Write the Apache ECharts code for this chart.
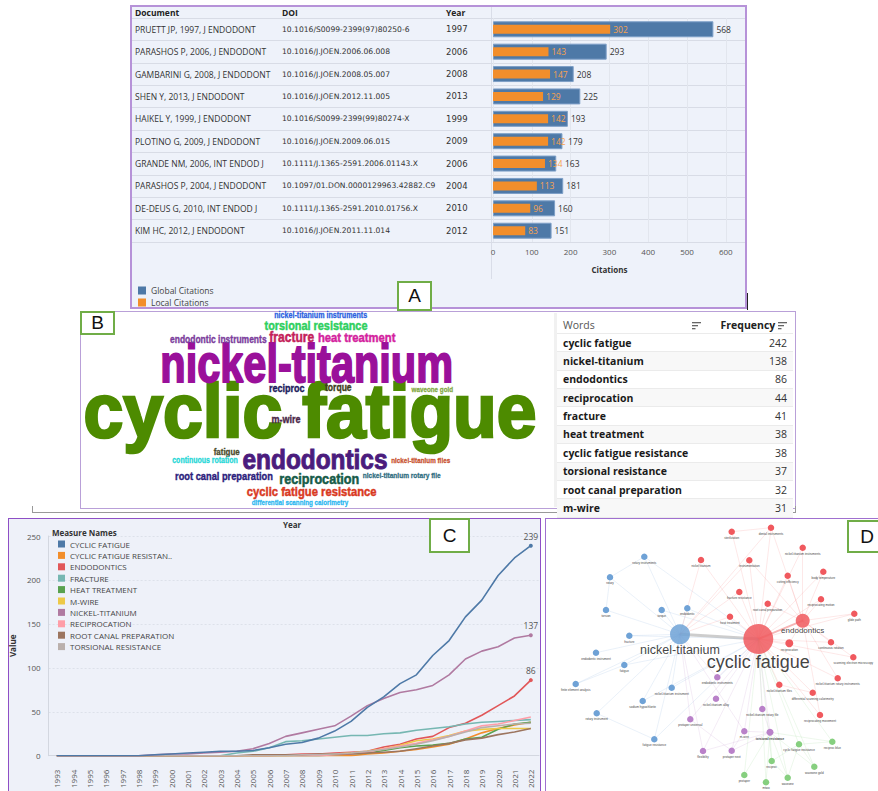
<!DOCTYPE html>
<html><head><meta charset="utf-8">
<script src="https://cdn.jsdelivr.net/npm/echarts@6/dist/echarts.min.js"></script>
<style>
body{margin:0;width:878px;height:791px;position:relative;overflow:hidden;background:#fff;font-family:'Open Sans',sans-serif}
.p{position:absolute;box-sizing:border-box}
.tag{position:absolute;box-sizing:border-box;border:2px solid #70ad47;background:#fff;font-family:'Liberation Sans',Arial,sans-serif;font-size:19px;color:#111;display:flex;align-items:center;justify-content:center;z-index:5}
#chart{position:absolute;left:0;top:0;width:878px;height:791px;z-index:2}
#wt{position:absolute;left:557px;top:316px;width:236px;z-index:3;border-collapse:collapse;font-family:'Open Sans',sans-serif}
#wt td{height:17.37px;padding:0 6px;font-size:10.5px;line-height:12px;border-bottom:1px solid #ebebeb}
#wt tr.h td{height:17px;font-size:10.5px;color:#555;font-weight:400}
#wt td.n{text-align:right;color:#333}
#wt td.w{font-weight:700;color:#1a1a1a}
#wt tr:nth-child(odd):not(.h) td{background:#f8f8f8}
</style></head>
<body>
<div class="p" style="left:130px;top:5px;width:617px;height:304px;background:#eef2fa;border:2px solid #b692d8"></div>
<div class="p" style="left:491px;top:7px;width:1px;height:272px;background:#d9dde8"></div>
<div class="p" style="left:747px;top:293px;width:1px;height:17px;background:#222"></div>
<div class="p" style="left:80px;top:311px;width:716px;height:198px;background:#fff;border:1.5px solid #b9a0d8"></div>
<div class="p" style="left:554px;top:313px;width:3px;height:194px;background:#f1f1f1"></div>
<div class="p" style="left:32px;top:512px;width:764px;height:1px;background:#999"></div>
<div class="p" style="left:32px;top:506px;width:1px;height:7px;background:#999"></div>
<div class="p" style="left:795px;top:506px;width:1px;height:7px;background:#999"></div>
<div class="p" style="left:8px;top:518px;width:533px;height:280px;background:#eef1f9;border:1.5px solid #8e4fc6"></div>
<div class="p" style="left:545px;top:518px;width:340px;height:280px;background:#fff;border:1.5px solid #a070d0"></div>
<div id="chart"></div>
<table id="wt"><tbody id="wtb"></tbody></table>
<div class="tag" style="left:397px;top:281px;width:35px;height:30px">A</div>
<div class="tag" style="left:80px;top:311px;width:35px;height:24px">B</div>
<div class="tag" style="left:429px;top:518px;width:41px;height:35px">C</div>
<div class="tag" style="left:847px;top:520px;width:40px;height:33px">D</div>
<script>
// ---------- Panel A data ----------
const docNames = ['PRUETT JP, 1997, J ENDODONT','PARASHOS P, 2006, J ENDODONT','GAMBARINI G, 2008, J ENDODONT','SHEN Y, 2013, J ENDODONT','HAIKEL Y, 1999, J ENDODONT','PLOTINO G, 2009, J ENDODONT','GRANDE NM, 2006, INT ENDOD J','PARASHOS P, 2004, J ENDODONT','DE-DEUS G, 2010, INT ENDOD J','KIM HC, 2012, J ENDODONT'];
const docDOIs = ['10.1016/S0099-2399(97)80250-6','10.1016/J.JOEN.2006.06.008','10.1016/J.JOEN.2008.05.007','10.1016/J.JOEN.2012.11.005','10.1016/S0099-2399(99)80274-X','10.1016/J.JOEN.2009.06.015','10.1111/J.1365-2591.2006.01143.X','10.1097/01.DON.0000129963.42882.C9','10.1111/J.1365-2591.2010.01756.X','10.1016/J.JOEN.2011.11.014'];
const docYears = [1997,2006,2008,2013,1999,2009,2006,2004,2010,2012];
const globalCitations = [568,293,208,225,193,179,163,181,160,151];
const localCitations = [302,143,147,129,142,142,134,113,96,83];
const citationTicks = [0,100,200,300,400,500,600];

// ---------- Panel B data ----------
const topWords = ['cyclic fatigue','nickel-titanium','endodontics','reciprocation','fracture','heat treatment','cyclic fatigue resistance','torsional resistance','root canal preparation','m-wire'];
const topFreq = [242,138,86,44,41,38,38,37,32,31];
const cloudWords = ['cyclic fatigue','nickel-titanium','endodontics','reciprocation','fracture','heat treatment','cyclic fatigue resistance','torsional resistance','root canal preparation','m-wire','endodontic instruments','nickel-titanium instruments','reciproc','torque','waveone gold','fatigue','continuous rotation','nickel-titanium files','nickel-titanium rotary file','differential scanning calorimetry'];
// word-cloud layout (placement, font size, target width, colour)
const cloudXY = [[230,100.4],[226.7,53.3],[235,149.9],[239.3,168.3],[211.7,27.3],[276.7,27.3],[231.7,181.7],[236,15.3],[144,166.7],[206,109.3],[138.3,30],[240.7,5.3],[206.7,78.3],[258.3,77.3],[352.3,79],[146.7,141.7],[125,150.7],[340.7,150],[321.7,165.7],[220,192]];
const cloudSize = [76,53,27,15,14,13.5,13.5,13,11,11,10,8.5,11,10.5,7.5,9.5,8.5,7.5,7.5,7.5];
const cloudWidth = [453,293,145,80,45,77.7,130,103,98,29,96.7,93,35.7,26.7,41.7,26,65.7,59,78,96.7];
const cloudColor = ['#4d8b00','#9a109a','#4b1c7d','#165b48','#c41e5a','#d4229e','#d9391f','#2ecf5e','#2b1d7c','#4a2848','#7b3c9c','#2a5fe0','#1c1c5c','#3d3d20','#7fa840','#4b4b2b','#1fd6d6','#c8502e','#2e6d80','#29b6f0'];

// ---------- Panel C data ----------
const trendYears = ['1993','1994','1995','1996','1997','1998','1999','2000','2001','2002','2003','2004','2005','2006','2007','2008','2009','2010','2011','2012','2013','2014','2015','2016','2017','2018','2019','2020','2021','2022'];
const trendNames = ['CYCLIC FATIGUE','CYCLIC FATIGUE RESISTANCE','ENDODONTICS','FRACTURE','HEAT TREATMENT','M-WIRE','NICKEL-TITANIUM','RECIPROCATION','ROOT CANAL PREPARATION','TORSIONAL RESISTANCE'];
const sCyclicFatigue = [0,0,0,0,0,0,1,2,3,4,5,5,6,9,13,15,20,28,39,55,67,82,92,114,131,158,177,205,225,239];
const sCFResistance = [0,0,0,0,0,0,0,0,0,0,0,0,0,0,0,0,0,0,0,2,3,5,7,10,13,19,26,31,35,38];
const sEndodontics = [0,0,0,0,0,0,0,0,0,0,0,0,0,0,1,2,2,3,4,5,10,13,19,22,32,37,46,57,68,86];
const sFracture = [0,0,0,0,0,0,0,0,0,0,0,3,5,9,16,17,19,21,23,23,25,26,29,31,33,36,38,39,40,41];
const sHeatTreatment = [0,0,0,0,0,0,0,0,0,0,0,0,0,0,0,0,0,1,2,3,6,9,11,12,14,19,21,30,36,38];
const sMWire = [0,0,0,0,0,0,0,0,0,0,0,0,0,0,0,1,1,2,3,5,8,12,17,19,23,28,30,31,31,31];
const sNickelTitanium = [0,0,0,0,0,0,1,2,2,3,4,5,8,14,22,26,30,34,45,57,65,72,75,80,92,110,119,124,134,137];
const sReciprocation = [0,0,0,0,0,0,0,0,0,0,0,0,0,0,0,0,0,1,2,4,8,11,14,18,22,28,34,36,40,44];
const sRootCanal = [0,0,0,0,0,0,0,0,0,0,0,0,1,1,1,1,2,2,2,3,4,5,8,11,14,18,20,24,27,31];
const sTorsional = [0,0,0,0,0,0,0,0,0,0,0,0,0,0,0,1,1,2,3,5,7,10,13,17,22,27,32,34,36,37];
const trendValues = [sCyclicFatigue,sCFResistance,sEndodontics,sFracture,sHeatTreatment,sMWire,sNickelTitanium,sReciprocation,sRootCanal,sTorsional];
const trendColors = ['#4e79a7','#f28e2b','#e15759','#76b7b2','#59a14f','#edc948','#b07aa1','#ff9da7','#9c755f','#bab0ac'];
const valueTicks = [0,50,100,150,200,250];

// ---------- Panel D data ----------
const netNames = ['cyclic fatigue','nickel-titanium','endodontics','sterilization','dental instruments','nickel-titanium instruments','nickel titanium','instrumentation','body temperature','cutting efficiency','fracture resistance','reciprocating motion','root canal preparation','glide path','heat treatment','reciprocation','continuous rotation','scanning electron microscopy','nickel-titanium rotary instruments','nickel-titanium files','differential scanning calorimetry','reciprocating movement','rotary instruments','rotary','torsion','torque','endodontic','fracture','endodontic instrument','fatigue','finite element analysis','nickel-titanium instrument','sodium hypochlorite','rotary instrument','fatigue resistance','endodontic instruments','nickel-titanium alloy','nickel-titanium rotary file','protaper universal','m-wire','torsional resistance','flexibility','protaper next','cyclic fatigue resistance','reciproc blue','reciproc','waveone gold','protaper','mtwo','waveone'];
const netCluster = ['r','b','r','r','r','r','r','r','r','r','r','r','r','r','r','r','r','r','r','r','r','r','b','b','b','b','b','b','b','b','b','b','b','b','b','p','p','p','p','p','p','p','p','g','g','g','g','g','g','g'];
// network layout (node placement and size)
const netXY = [[213.3,121],[135,116.3],[257.7,102.7],[186.7,13.7],[226,9.7],[257.7,29.7],[156,42],[204.3,42.3],[278.3,53.7],[242.7,57.7],[194.3,74],[276,81.3],[222.7,85.7],[309.3,95.7],[185,98.7],[244.3,125.3],[286,124.3],[308.3,139.3],[292.7,160.3],[234.3,166.7],[267.7,174.7],[275,197],[99.3,38.7],[65,59.3],[61,92],[116.7,92],[142.3,90.3],[84.3,117.7],[51,134.7],[79.3,147],[30.7,166],[126.7,169.7],[97.7,183],[51.7,195.3],[109.3,221.3],[172.3,159.3],[171,180.7],[217.3,191],[145.3,201.3],[199.3,213.3],[225,214.3],[158,233],[186.7,232.7],[254,226.3],[287.3,223.7],[226.7,243],[269.3,248.7],[199.3,257],[221,264.3],[242.7,259.7]];
const netSize = [30,20,14,6.5,6.5,6.5,6.5,6.5,6.5,6.5,6.5,6.5,6.5,6.5,6.5,8,6.5,6.5,6.5,6.5,6.5,6.5,6.5,6.5,6.5,6.5,6.5,6.5,6.5,6.5,6.5,6.5,6.5,6.5,6.5,6.5,6.5,6.5,6.5,6.5,7,6.5,6.5,6.5,6.5,6.5,6.5,6.5,6.5,6.5];
const netLinks = [
 ['cyclic fatigue','nickel-titanium'],['cyclic fatigue','endodontics'],
 ...['sterilization','dental instruments','nickel-titanium instruments','nickel titanium','instrumentation','body temperature','cutting efficiency','fracture resistance','reciprocating motion','root canal preparation','glide path','heat treatment','reciprocation','continuous rotation','scanning electron microscopy','nickel-titanium rotary instruments','nickel-titanium files','differential scanning calorimetry','reciprocating movement','endodontic instruments','nickel-titanium alloy','nickel-titanium rotary file','protaper universal','m-wire','torsional resistance','flexibility','protaper next','cyclic fatigue resistance','reciproc blue','reciproc','waveone gold','protaper','waveone','mtwo','fracture','torque','endodontic','fatigue','rotary instruments','nickel-titanium instrument','fatigue resistance','sodium hypochlorite'].map(t=>['cyclic fatigue',t]),
 ...['rotary instruments','rotary','torsion','torque','endodontic','fracture','endodontic instrument','fatigue','finite element analysis','nickel-titanium instrument','sodium hypochlorite','rotary instrument','fatigue resistance','nickel titanium','heat treatment','instrumentation','endodontic instruments','protaper universal','flexibility','m-wire','dental instruments','fracture resistance'].map(t=>['nickel-titanium',t]),
 ...['nickel-titanium instruments','cutting efficiency','body temperature','reciprocating motion','glide path','continuous rotation','reciprocation','root canal preparation','dental instruments','scanning electron microscopy','nickel-titanium rotary instruments','reciprocating movement','instrumentation'].map(t=>['endodontics',t]),
 ...['reciproc','waveone gold','protaper','mtwo','waveone','reciproc blue','m-wire','protaper next','flexibility','nickel-titanium rotary file'].map(t=>['torsional resistance',t]),
 ...['reciproc blue','waveone gold','reciproc','waveone'].map(t=>['cyclic fatigue resistance',t]),
 ['rotary instruments','rotary'],['torsion','rotary'],['fatigue','finite element analysis'],['rotary instrument','fatigue resistance'],['protaper universal','protaper next'],['m-wire','protaper next'],['reciproc','waveone'],['sterilization','dental instruments'],['nickel-titanium files','differential scanning calorimetry']
];

const clusterColor = {r:'#f0595e', b:'#6fa2d6', p:'#b981c9', g:'#86cf7f'};
const edgeColor = {r:'#f38f92', b:'#9cbde2', p:'#c9a2d6', g:'#a8dca3'};
const FONT = "'Open Sans', sans-serif";
const WIDE = "'DejaVu Sans', sans-serif";
const CLOUD = "'Liberation Sans', Arial, sans-serif";

// condense each cloud word to its measured width
const mctx = document.createElement('canvas').getContext('2d');
const cloudScale = cloudWords.map((w,i)=>{
  mctx.font = 'bold ' + cloudSize[i] + 'px ' + CLOUD;
  return cloudWidth[i] / mctx.measureText(w).width;
});

// B table
const sortIcon = '<svg width="9" height="8" style="vertical-align:middle"><rect x="0" y="0" width="9" height="1.3" fill="#666"/><rect x="0" y="3" width="6" height="1.3" fill="#666"/><rect x="0" y="6" width="3.5" height="1.3" fill="#666"/></svg>';
document.getElementById('wtb').innerHTML =
 '<tr class="h"><td>Words<span style="float:right">'+sortIcon+'</span></td><td class="n" style="font-weight:700;color:#222">Frequency '+sortIcon+'</td></tr>' +
 topWords.map((w,i)=>'<tr><td class="w">'+w+'</td><td class="n">'+topFreq[i]+'</td></tr>').join('');

const chart = echarts.init(document.getElementById('chart'), null, {renderer:'svg'});
const rowTop = 18.1, rowH = 223.8;
const pxPerCitation = 232.8 / 600;
const lastIdx = trendYears.length - 1;
const labeled = {0:true, 2:true, 6:true};
const idxOf = {}; netNames.forEach((n,i)=>idxOf[n]=i);

const option = {
 animation:false,
 textStyle:{fontFamily:FONT},
 legend:[
  {data:['Global Citations','Local Citations'], orient:'vertical', left:133, top:281, itemWidth:8, itemHeight:8, itemGap:3, icon:'rect',
   itemStyle:{borderWidth:0}, textStyle:{fontSize:8.5,color:'#444',fontFamily:FONT}, selectedMode:false},
  {data:trendNames, orient:'vertical', left:53, top:535, itemWidth:7, itemHeight:7, itemGap:3.4, icon:'rect', selectedMode:false,
   itemStyle:{borderWidth:0},
   formatter:n=> n.length>23 ? n.slice(0,23)+'..' : n, textStyle:{fontSize:8,color:'#444',fontFamily:FONT}}
 ],
 grid:[
  {left:132, top:rowTop, width:613, height:rowH},
  {left:493, top:rowTop, width:232.8, height:rowH},
  {left:43.5, top:536, width:495.5, height:224},
  {left:80, top:310, width:475, height:198},
  {left:545, top:518, width:333, height:273}
 ],
 xAxis:[
  {gridIndex:0, type:'value', show:false},
  {gridIndex:1, type:'value', min:0, max:600, interval:100, name:'Citations', nameLocation:'middle', nameGap:24,
   nameTextStyle:{fontSize:8,fontWeight:'bold',color:'#333'},
   axisLine:{show:false}, axisTick:{show:false}, axisLabel:{fontSize:8,color:'#555',margin:6,
   formatter:v=>citationTicks.includes(v)?String(v):''},
   splitLine:{lineStyle:{color:'#e2e6ee',width:1}}},
  {gridIndex:2, type:'category', data:trendYears, boundaryGap:true, offset:11,
   axisLine:{lineStyle:{color:'#d3d7e0'}}, axisTick:{show:false},
   axisLabel:{rotate:90, fontSize:8, color:'#555', margin:3, interval:0}},
  {gridIndex:3, type:'value', min:0, max:475, show:false},
  {gridIndex:4, type:'value', min:0, max:333, show:false}
 ],
 yAxis:[
  {gridIndex:0, type:'category', inverse:true, data:docNames.map((d,i)=>i),
   axisLine:{show:false}, axisTick:{show:false},
   splitLine:{show:true, lineStyle:{color:'#d8dce6',width:1}},
   axisLabel:{inside:true, margin:3, formatter:(v,i)=>'{d|'+docNames[i]+'}{o|'+docDOIs[i]+'}{y|'+docYears[i]+'}',
    rich:{d:{width:147,fontSize:8.5,color:'#333',fontFamily:FONT}, o:{width:164,fontSize:7.6,color:'#333',fontFamily:WIDE}, y:{fontSize:8.5,color:'#333',fontFamily:WIDE}}}},
  {gridIndex:1, type:'category', inverse:true, data:docNames, show:false},
  {gridIndex:1, type:'category', inverse:true, data:docNames, show:false},
  {gridIndex:2, type:'value', min:0, max:250, interval:50, name:'Value', nameLocation:'middle', nameGap:27,
   nameTextStyle:{fontSize:8,fontWeight:'bold',color:'#333'},
   axisLine:{show:true,lineStyle:{color:'#d3d7e0'}}, axisTick:{show:false},
   axisLabel:{fontSize:8,color:'#555',margin:8, formatter:v=>valueTicks.includes(v)?String(v):''},
   splitLine:{lineStyle:{color:'#dde1ea',type:[2,2]}}},
  {gridIndex:3, type:'value', min:0, max:198, inverse:true, show:false},
  {gridIndex:4, type:'value', min:0, max:273, inverse:true, show:false}
 ],
 graphic:[
  {type:'text', left:135, top:8, style:{text:'Document', fontSize:8.5, fontWeight:'bold', fill:'#222', fontFamily:FONT}},
  {type:'text', left:282, top:8, style:{text:'DOI', fontSize:8.5, fontWeight:'bold', fill:'#222', fontFamily:FONT}},
  {type:'text', left:446, top:8, style:{text:'Year', fontSize:8.5, fontWeight:'bold', fill:'#222', fontFamily:FONT}},
  {type:'text', left:283, top:520, style:{text:'Year', fontSize:8, fontWeight:'bold', fill:'#333', fontFamily:FONT}},
  {type:'text', left:52, top:528, style:{text:'Measure Names', fontSize:8, fontWeight:'bold', fill:'#333', fontFamily:FONT}}
 ],
 series:[
  {type:'bar', name:'Global Citations', xAxisIndex:1, yAxisIndex:1, barWidth:16, z:2,
   data:globalCitations.map((g,i)=>{
     const gapPx = (g - localCitations[i]) * pxPerCitation;
     return {value:g, label:{distance: Math.max(3, 3 + 17 - gapPx)}};
   }),
   itemStyle:{color:'#4e79a7', borderColor:'#7d9fc7', borderWidth:1},
   label:{show:true, position:'right', distance:3, fontSize:8.5, color:'#333', fontFamily:FONT}},
  {type:'bar', name:'Local Citations', xAxisIndex:1, yAxisIndex:2, data:localCitations, barWidth:9, z:4,
   itemStyle:{color:'#f28e2b'},
   label:{show:true, position:'right', distance:3, fontSize:8.5, color:'#f7a24e', fontFamily:FONT}},
  ...trendNames.map((n,k)=>({
   type:'line', name:n, xAxisIndex:2, yAxisIndex:3, data:trendValues[k],
   color:trendColors[k], lineStyle:{width:1.6, color:trendColors[k]}, itemStyle:{color:trendColors[k]},
   showSymbol: !!labeled[k], symbol:'circle', symbolSize:(v,p)=> p.dataIndex===lastIdx ? 4 : 0,
   z: k===0 ? 5 : (k===6 ? 4 : 3),
   label:{show:!!labeled[k], position:'top', distance:3, fontSize:8.5, color:'#555', fontFamily:FONT,
    formatter:p=> p.dataIndex===lastIdx ? String(p.value) : ''}
  })),
  {type:'custom', xAxisIndex:3, yAxisIndex:4, silent:true,
   data:cloudXY,
   renderItem:(params, api)=>{
     const i = params.dataIndex;
     const pt = api.coord([api.value(0), api.value(1)]);
     return {type:'text', x:pt[0], y:pt[1], scaleX:cloudScale[i],
       style:{text:cloudWords[i], fontSize:cloudSize[i], fontWeight:'bold', fontFamily:CLOUD,
         fill:cloudColor[i], stroke:cloudColor[i], lineWidth:Math.max(0.2, cloudSize[i]*0.035),
         align:'center', verticalAlign:'middle'}};
   }},
  {type:'graph', layout:'none', coordinateSystem:'cartesian2d', xAxisIndex:4, yAxisIndex:5, silent:true,
   data:netNames.map((n,i)=>{
     const big = i<3;
     const fs = i===0 ? 18 : (i===1 ? 12.5 : (i===2 ? 8 : 3));
     return {name:n, value:netXY[i], symbolSize:netSize[i],
      itemStyle:{color:clusterColor[netCluster[i]], opacity: big?0.85:1},
      label:{show:true, position:'bottom', distance: big? -1 : 1, fontSize:fs, color: big?'#222':'#444',
        fontFamily:"'Liberation Sans',Arial,sans-serif", fontWeight: n==='torsional resistance'?'bold':'normal'}};
   }),
   links:netLinks.map(([s,t])=>{
     let ls = {color:edgeColor[netCluster[idxOf[t]]], width:0.7, opacity:0.3};
     if (s==='cyclic fatigue' && t==='nickel-titanium') ls = {width:3, color:'#c8c8c8', opacity:0.9};
     else if (s==='cyclic fatigue' && t==='endodontics') ls = {width:2, color:'#f4a3a3', opacity:0.8};
     return {source:s, target:t, lineStyle:ls};
   }),
   lineStyle:{curveness:0},
   z:3}
 ]
};
chart.setOption(option);
</script>
</body></html>
